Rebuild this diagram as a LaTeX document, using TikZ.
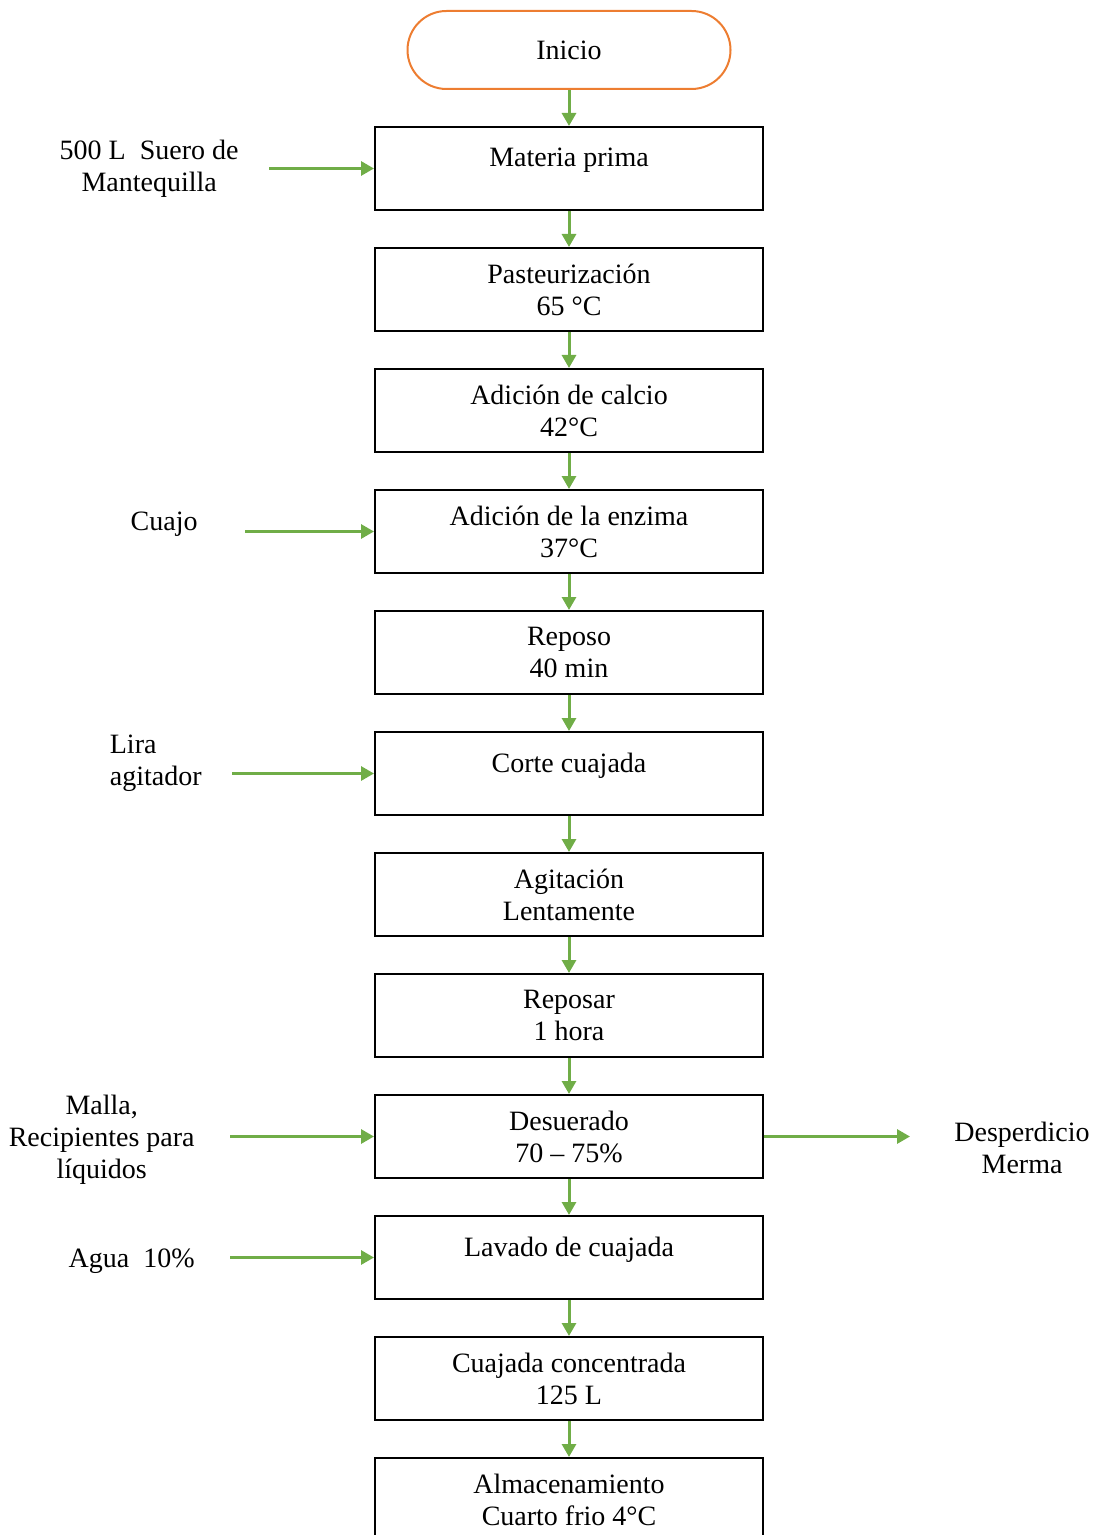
\documentclass[tikz,border=0pt]{standalone}
\usepackage{fontspec}
\setmainfont{Liberation Serif}
\usepackage{tikz}
\usetikzlibrary{arrows.meta,positioning}
\definecolor{flowgreen}{RGB}{112,173,71}
\definecolor{startorange}{RGB}{237,125,49}
\tikzset{
    procbox/.style={
        rectangle,
        draw=black,
        line width=1pt,
        minimum width=194pt,
        minimum height=41.5pt,
        inner sep=2pt,
        align=center
    },
    startbox/.style={
        rectangle,
        rounded corners=19.5pt,
        draw=startorange,
        line width=1pt,
        minimum width=161.5pt,
        minimum height=39pt
    },
    inlabel/.style={inner sep=0pt, align=center},
    flow/.style={-{Triangle[length=6.5pt,width=7pt]}, line width=1.5pt, draw=flowgreen},
}

\begin{document}
\begin{tikzpicture}[node distance=18pt, font=\fontsize{14pt}{16pt}\selectfont]
    \useasboundingbox (0,0) rectangle (548pt,-767.5pt);

    \node[startbox] (inicio) at (284.5pt,-25pt) {Inicio};
    \node[procbox, below=of inicio] (materia) {Materia prima\\[-5pt]~};
    \node[procbox, below=of materia] (pasteur) {Pasteurización\\65 °C};
    \node[procbox, below=of pasteur] (calcio) {Adición de calcio\\42°C};
    \node[procbox, below=of calcio] (enzima) {Adición de la enzima\\37°C};
    \node[procbox, below=of enzima] (reposo) {Reposo\\40 min};
    \node[procbox, below=of reposo] (corte) {Corte cuajada\\[-5pt]~};
    \node[procbox, below=of corte] (agita) {Agitación\\Lentamente};
    \node[procbox, below=of agita] (reposar) {Reposar\\1 hora};
    \node[procbox, below=of reposar] (desuero) {Desuerado\\70 – 75\%};
    \node[procbox, below=of desuero] (lavado) {Lavado de cuajada\\[-5pt]~};
    \node[procbox, below=of lavado] (cuajada) {Cuajada concentrada\\125 L};
    \node[procbox, below=of cuajada] (almacen) {Almacenamiento\\Cuarto frio 4°C};

    % entradas y salidas
    \node[inlabel, left=67.5pt of materia] (suero) {500 L\ \ Suero de\\Mantequilla};
    \node[inlabel, left=88pt of enzima, yshift=3.5pt] (cuajo) {Cuajo};
    \node[inlabel, align=left, left=86pt of corte, yshift=5pt] (lira) {Lira\\agitador};
    \node[inlabel, left=89.5pt of desuero, yshift=-1.5pt] (malla) {Malla,\\Recipientes para\\líquidos};
    \node[inlabel, left=89.5pt of lavado, yshift=-2pt] (agua) {Agua\ \ 10\%};
    \node[inlabel, right=95pt of desuero, yshift=-5.5pt] (merma) {Desperdicio\\Merma};

    \draw[flow] (inicio) -- (materia);
    \draw[flow] (materia) -- (pasteur);
    \draw[flow] (pasteur) -- (calcio);
    \draw[flow] (calcio) -- (enzima);
    \draw[flow] (enzima) -- (reposo);
    \draw[flow] (reposo) -- (corte);
    \draw[flow] (corte) -- (agita);
    \draw[flow] (agita) -- (reposar);
    \draw[flow] (reposar) -- (desuero);
    \draw[flow] (desuero) -- (lavado);
    \draw[flow] (lavado) -- (cuajada);
    \draw[flow] (cuajada) -- (almacen);

    \draw[flow, shorten <=15pt] (suero.east |- materia.west) -- (materia.west);
    \draw[flow, shorten <=23.5pt] (cuajo.east |- enzima.west) -- (enzima.west);
    \draw[flow, shorten <=15pt] (lira.east |- corte.west) -- (corte.west);
    \draw[flow, shorten <=17.5pt] (malla.east |- desuero.west) -- (desuero.west);
    \draw[flow, shorten <=17.5pt] (agua.east |- lavado.west) -- (lavado.west);
    \draw[flow, shorten >=22pt] (desuero.east) -- (desuero.east -| merma.west);
\end{tikzpicture}
\end{document}
